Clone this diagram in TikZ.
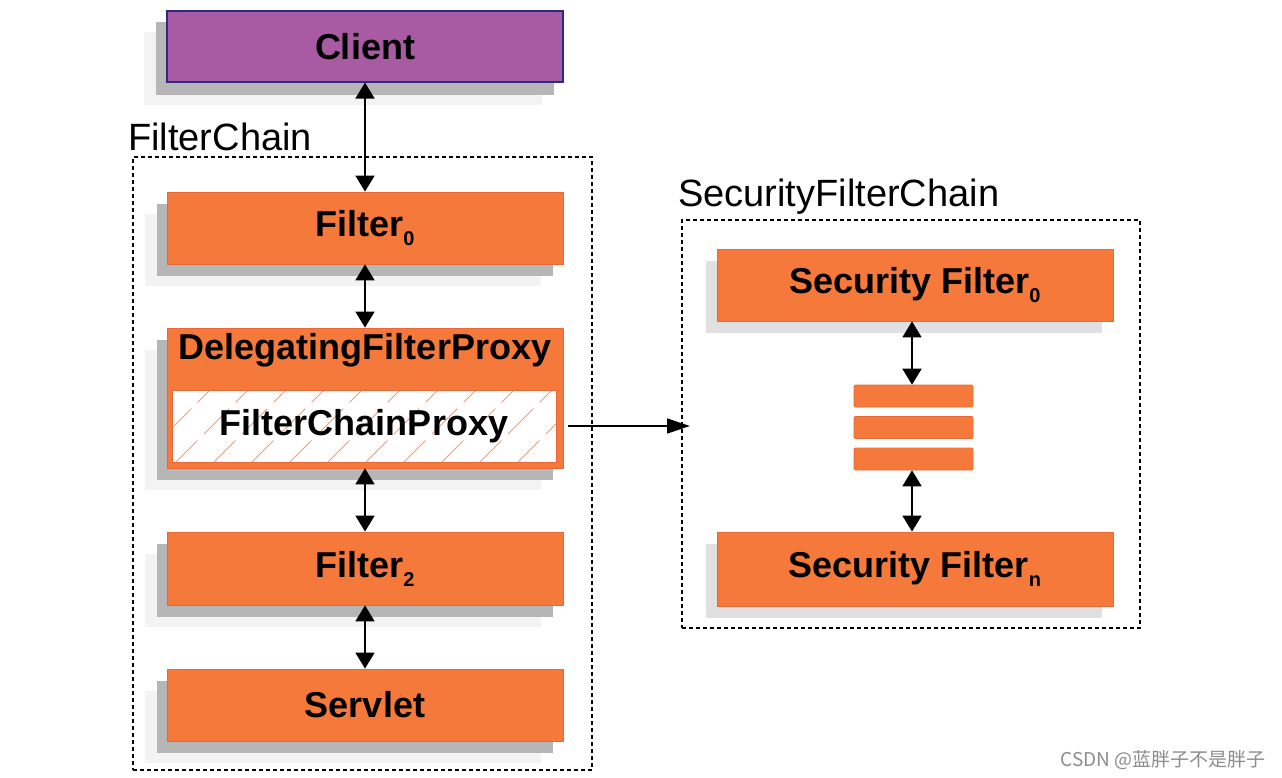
\documentclass[tikz,border=0pt]{standalone}
\usepackage{fontspec}
\setmainfont{Liberation Sans}
\newfontfamily\cjk{Noto Sans CJK SC}
\usetikzlibrary{arrows.meta,backgrounds}
\definecolor{orangeF}{HTML}{F4793B}
\definecolor{orangeD}{HTML}{E9683A}
\definecolor{purpleF}{HTML}{A85BA3}
\definecolor{navy}{HTML}{2B2A85}
\definecolor{shDark}{HTML}{B6B6B6}
\definecolor{shLight}{HTML}{F3F3F3}
\definecolor{shSec}{HTML}{E0E0E0}
\newcommand\twoshadow[1]{%
  \fill[shLight] ([shift={(-22,22)}]#1.north west) rectangle ([shift={(-22,22)}]#1.south east);
  \fill[shDark] ([shift={(-10,12)}]#1.north west) rectangle ([shift={(-10,12)}]#1.south east);}
\newcommand\oneshadow[1]{%
  \fill[shSec] ([shift={(-11,12)}]#1.north west) rectangle ([shift={(-11,12)}]#1.south east);}
\tikzset{
  box/.style={draw=orangeD, fill=orangeF, line width=0.8pt, minimum width=396pt,
    minimum height=72pt, inner sep=0pt, font=\bfseries\fontsize{36}{40}\selectfont},
  bar/.style={draw=orangeD, fill=orangeF, line width=0.6pt, rounded corners=1pt,
    minimum width=119pt, minimum height=22pt, inner sep=0pt},
  frame/.style={draw=black, line width=1.5pt, dash pattern=on 4pt off 3pt, inner sep=0pt},
  title/.style={font=\fontsize{38}{42}\selectfont, inner sep=0pt, anchor=base west},
  both/.style={{Triangle[length=16pt,width=19pt]}-{Triangle[length=16pt,width=19pt]}, line width=1.8pt},
  one/.style={-{Triangle[length=23pt,width=15pt]}, line width=1.3pt},
  hatch/.style={orangeF!75, line width=0.9pt, dash pattern=on 36pt off 9pt}
}
\newcommand\sub[1]{\raisebox{-9pt}{\fontsize{20}{20}\selectfont #1}}
\begin{document}
\begin{tikzpicture}[x=1pt,y=-1pt]
\useasboundingbox (0,0) rectangle (1282,778);
% frames
\node[frame, minimum width=459pt, minimum height=613pt] (fc) at (362.5,463.5) {};
\node[frame, minimum width=458pt, minimum height=408pt] (sfc) at (911,424) {};
\node[title] (fclabel) at (128,151) {FilterChain};
\node[title] (sfclabel) at (678,207) {SecurityFilterChain};
% left column
\node[box, fill=purpleF, draw=navy, line width=1.2pt, minimum height=71pt] (client) at (365,46.5) {Client};
\node[box] (f0) at (365,228) {Filter\sub{0}};
\node[box, minimum height=140pt] (dfp) at (365,398) {};
\node[inner sep=0pt, font=\bfseries\fontsize{36}{40}\selectfont] (dfplabel) at (365,350) {DelegatingFilterProxy};
\node[draw=orangeD, fill=white, line width=1pt, minimum width=384pt, minimum height=72pt, inner sep=0pt,
  path picture={\foreach \i in {-3,...,12}{\draw[hatch] (path picture bounding box.south west) ++(\i*38,4) -- ++(84,-84);}}]
  (fcp) at (364,426) {};
\node[inner sep=0pt, font=\bfseries\fontsize{36}{40}\selectfont] (fcplabel) at (364,426) {FilterChainProxy};
\node[box, minimum height=73pt] (f2) at (365,568.5) {Filter\sub{2}};
\node[box] (servlet) at (365,705) {Servlet};
% right column
\node[box] (sf0) at (915,285) {Security Filter\sub{0}};
\node[bar] (b1) at (913.5,396) {};
\node[bar] (b2) at (913.5,427.5) {};
\node[bar] (b3) at (913.5,459) {};
\node[box, minimum height=74pt] (sfn) at (915,569) {Security Filter\sub{n}};
% shadows
\begin{scope}[on background layer]
\twoshadow{client}
\twoshadow{f0}
\twoshadow{dfp}
\twoshadow{f2}
\twoshadow{servlet}
\oneshadow{sf0}
\oneshadow{sfn}
\end{scope}
% connectors
\draw[both] (client.south) -- (f0.north);
\draw[both] (f0.south) -- (dfp.north);
\draw[both] (dfp.south) -- (f2.north);
\draw[both] (f2.south) -- (servlet.north);
\draw[both] ([xshift=-1.5pt]sf0.south -| b1.north) -- ([xshift=-1.5pt]b1.north);
\draw[both] ([xshift=-1.5pt]b3.south) -- ([xshift=-1.5pt]sfn.north -| b3.south);
\coordinate (tipend) at (690,426);
\draw[one] ([xshift=5pt]dfp.east |- fcp.east) -- (tipend);
% watermark
\node[anchor=base east, inner sep=0pt, text=black!45, font=\cjk\fontsize{19}{22}\selectfont] (wm) at (1266,766) {CSDN @蓝胖子不是胖子};
\end{tikzpicture}
\end{document}
